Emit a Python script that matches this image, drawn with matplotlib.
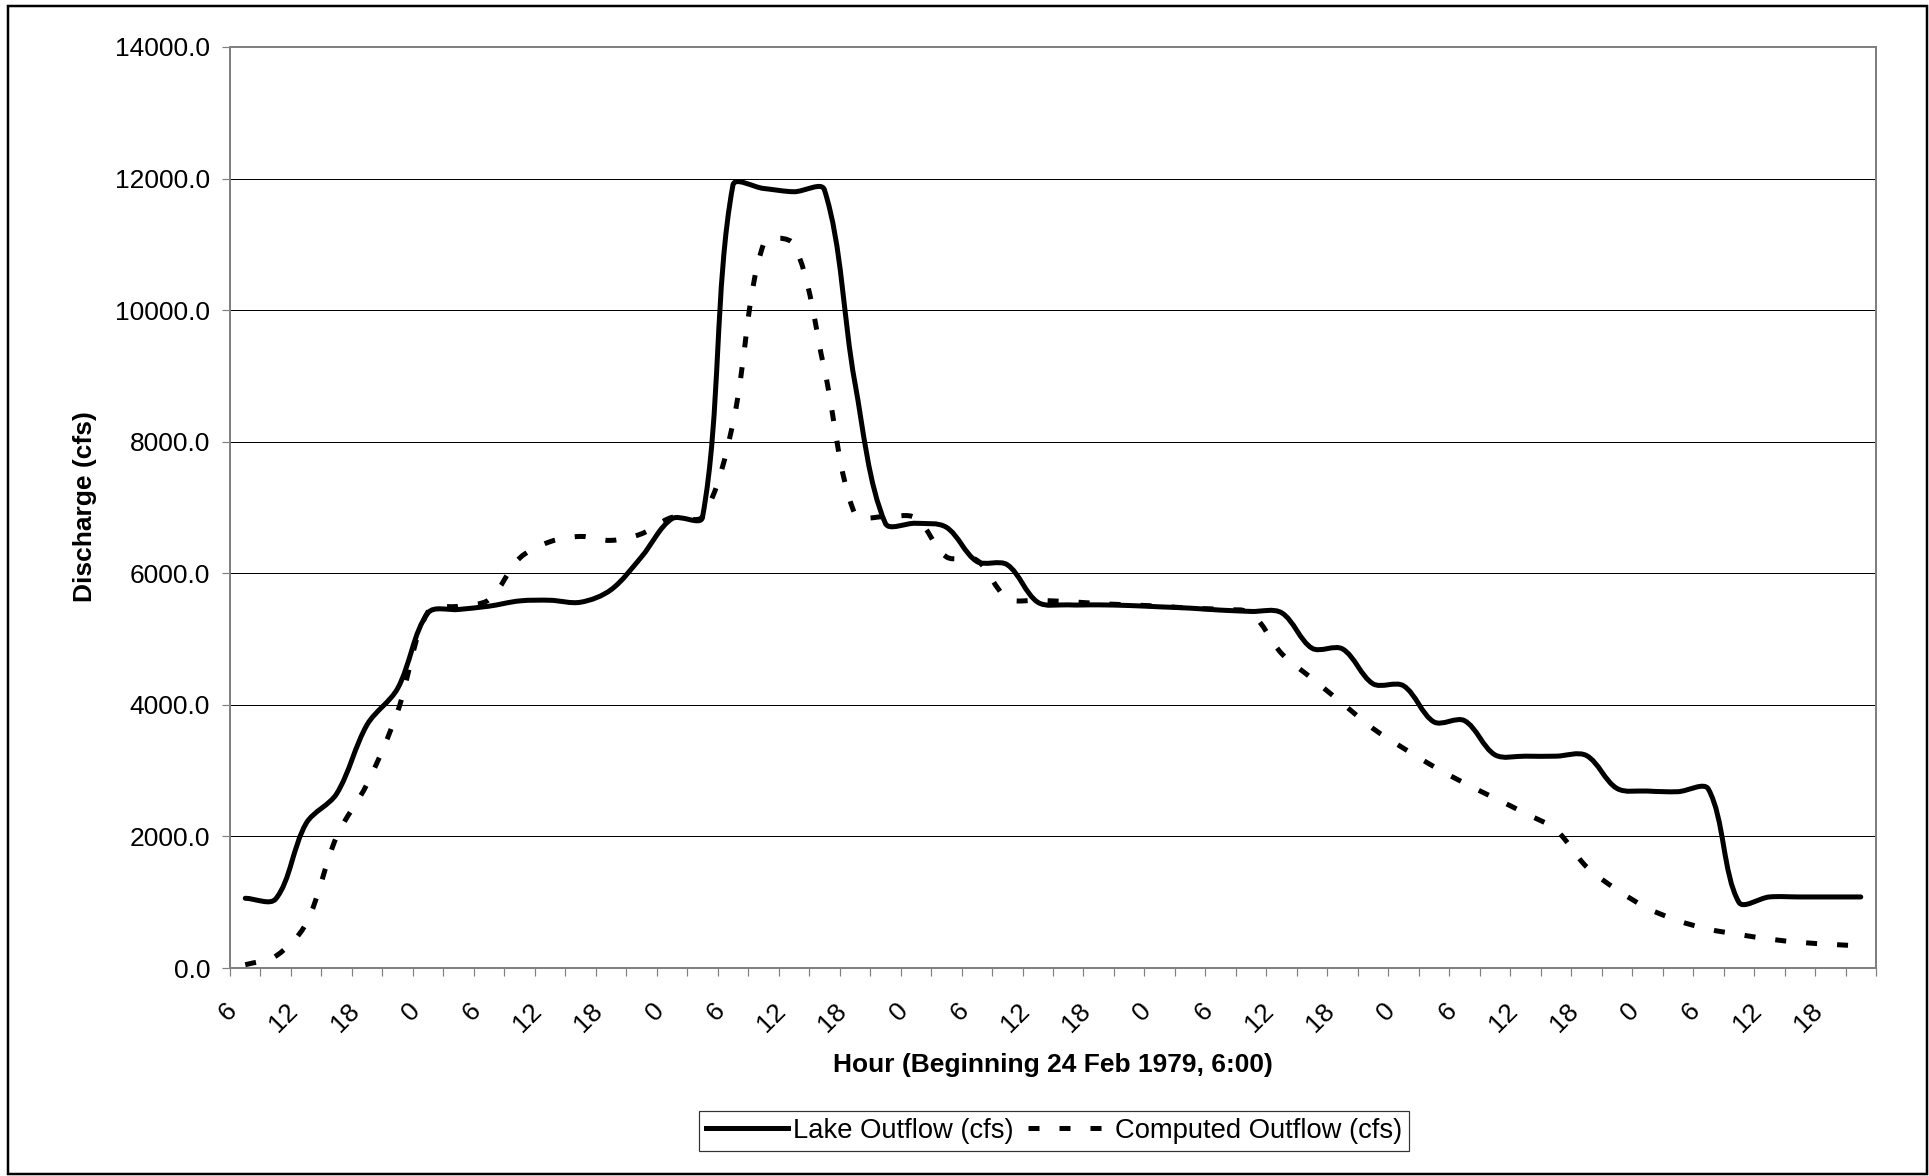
import numpy as np
import matplotlib
matplotlib.use('Agg')
import matplotlib.pyplot as plt
from matplotlib.path import Path
from matplotlib.patches import PathPatch, Rectangle
from matplotlib.lines import Line2D

plt.rcParams['font.family'] = ['Liberation Sans', 'DejaVu Sans']

# 3-hourly values starting 24 Feb 1979 06:00
lake_outflow = [1060, 1050, 2200, 2650, 3700, 4250, 5400, 5450, 5500, 5580,
                5590, 5560, 5750, 6250, 6830, 6850, 11900, 11850, 11800, 11830,
                8900, 6760, 6760, 6700, 6180, 6130, 5560, 5520, 5520, 5510,
                5490, 5470, 5440, 5420, 5400, 4860, 4850, 4320, 4290, 3740,
                3760, 3240, 3220, 3220, 3230, 2730, 2690, 2680, 2720, 1000,
                1080, 1080, 1080, 1080]
computed_outflow = [50, 180, 680, 2000, 2800, 3900, 5420, 5500, 5600, 6230,
                    6480, 6560, 6500, 6600, 6850, 6860, 8280, 11000, 11000, 9100,
                    6900, 6860, 6840, 6250, 6200, 5620, 5590, 5570, 5540, 5520,
                    5500, 5470, 5450, 5390, 4780, 4400, 4020, 3640, 3340, 3060,
                    2810, 2580, 2350, 2100, 1540, 1190, 910, 720, 590, 510,
                    440, 390, 360, 335]
hour_labels = ['6', '12', '18', '0', '6', '12', '18', '0', '6', '12', '18', '0',
               '6', '12', '18', '0', '6', '12', '18', '0', '6', '12', '18', '0',
               '6', '12', '18']

PX = 0.72  # points per pixel at dpi 100
GRAY = '#808080'
# pixel size of one data unit, used for the smoothing weights
SX, SY = 1646 / 54, 921 / 14000


def smooth_path(xs, ys):
    # Excel style smoothed line: bezier segments through every point,
    # tangents weighted by the on-screen segment lengths
    pts = np.column_stack([xs, ys]).astype(float)
    n = len(pts)

    def dist(a, b):
        return np.hypot((b[0] - a[0]) * SX, (b[1] - a[1]) * SY)

    verts = [pts[0]]
    codes = [Path.MOVETO]
    for i in range(n - 1):
        p0 = pts[i - 1] if i > 0 else pts[i]
        p1 = pts[i]
        p2 = pts[i + 1]
        p3 = pts[i + 2] if i + 2 < n else pts[i + 1]
        d01, d12, d23 = dist(p0, p1), dist(p1, p2), dist(p2, p3)
        c1 = p1 + (p2 - p0) * (d12 / (d01 + d12)) / 3
        c2 = p2 - (p3 - p1) * (d12 / (d12 + d23)) / 3
        verts += [c1, c2, p2]
        codes += [Path.CURVE4] * 3
    return Path(verts, codes)


fig = plt.figure(figsize=(19.29, 11.76), dpi=100)
ax = fig.add_axes([230 / 1929, 1 - 968 / 1176, 1646 / 1929, 921 / 1176])

cats = np.arange(len(lake_outflow))
lw = 5 * PX

lake_patch = PathPatch(smooth_path(cats, lake_outflow), fill=False, edgecolor='black',
                       lw=lw, joinstyle='round', capstyle='round', zorder=3)
comp_patch = PathPatch(smooth_path(cats, computed_outflow), fill=False, edgecolor='black',
                       lw=lw, linestyle=(0, (2.2, 4.0)), capstyle='butt', zorder=4)
ax.add_patch(lake_patch)
ax.add_patch(comp_patch)

ax.set_xlim(-0.5, len(cats) - 0.5)
ax.set_ylim(0, 14000)

# y axis
yt = np.arange(0, 14001, 2000)
ax.set_yticks(yt)
ax.set_yticklabels(['%.1f' % v for v in yt])
ax.tick_params(axis='y', length=8 * PX, width=1.2 * PX, color=GRAY, pad=8.5,
               labelsize=19)
ax.yaxis.grid(True, color='black', lw=1.0 * PX)
ax.set_axisbelow(True)

# x axis: tick marks between categories, labels every second category
ax.set_xticks(np.arange(-0.5, len(cats), 1))
ax.set_xticklabels([])
ax.tick_params(axis='x', which='major', length=8 * PX, width=1.2 * PX, color=GRAY)
label_pos = cats[::2] - 0.39
ax.set_xticks(label_pos, minor=True)
ax.set_xticklabels(hour_labels, minor=True)
ax.tick_params(axis='x', which='minor', length=0, pad=28, labelsize=19)
for lab in ax.get_xticklabels(minor=True):
    lab.set_rotation(45)
    lab.set_ha('right')
    lab.set_va('center')
    lab.set_rotation_mode('anchor')

for sp in ax.spines.values():
    sp.set_color(GRAY)
    sp.set_linewidth(2 * PX)

fig.text(85 / 1929, 1 - 507 / 1176, 'Discharge (cfs)', rotation=90, ha='center',
         va='center', fontsize=19, fontweight='bold')
fig.text(1053 / 1929, 1 - 1065 / 1176, 'Hour (Beginning 24 Feb 1979, 6:00)',
         ha='center', va='center', fontsize=19, fontweight='bold')

handles = [Line2D([], [], color='black', lw=lw),
           Line2D([], [], color='black', lw=lw, linestyle=(0, (2.2, 4.0)),
                  dash_capstyle='butt')]
leg = fig.legend(handles, ['Lake Outflow (cfs)', 'Computed Outflow (cfs)'],
                 loc='center', bbox_to_anchor=(1054 / 1929, 1 - 1131 / 1176),
                 ncol=2, fontsize=19.7, frameon=True, fancybox=False,
                 handlelength=3.0, handletextpad=0.2, columnspacing=0.5,
                 borderpad=0.25, borderaxespad=0)
leg.get_frame().set_edgecolor('black')
leg.get_frame().set_linewidth(1.2 * PX)

fig.patches.append(Rectangle((8 / 1929, 2 / 1176), 1918.5 / 1929, 1168 / 1176,
                             transform=fig.transFigure, fill=False,
                             edgecolor='black', lw=2.5 * PX))

fig.savefig('out.png', dpi=100)
